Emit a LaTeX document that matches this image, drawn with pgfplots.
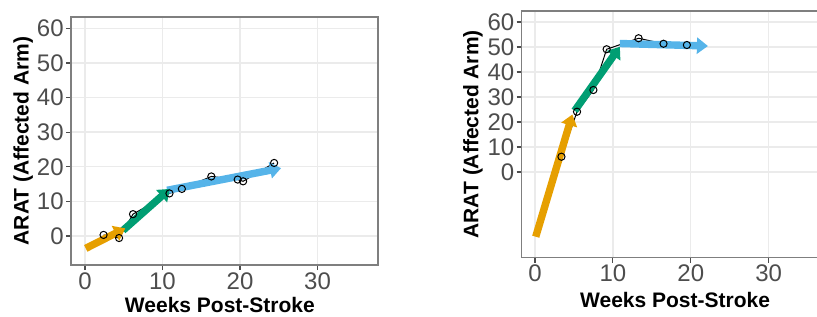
\documentclass[border=0pt]{standalone}
\usepackage{fontspec}
\setmainfont{Liberation Sans}
\usepackage{pgfplots}
\pgfplotsset{compat=1.18}
\usetikzlibrary{arrows.meta}
\definecolor{okorange}{HTML}{E69F00}
\definecolor{okgreen}{HTML}{009E73}
\definecolor{okblue}{HTML}{56B4E9}
\definecolor{gridc}{HTML}{EBEBEB}
\definecolor{framec}{HTML}{7F7F7F}
\definecolor{tickc}{HTML}{4D4D4D}
\pgfplotsset{panel/.style={
  scale only axis, anchor=south west,
  axis line style={framec, line width=0.6pt},
  grid=major, major grid style={gridc, line width=0.7pt},
  tick pos=left, tick align=outside, major tick length=2.5pt,
  tick style={tickc, line width=0.6pt},
  xtick={0,10,20,30}, ytick={0,10,...,60},
  ticklabel style={font=\fontsize{12}{13}\selectfont, text=tickc, inner sep=1pt},
  /pgf/number format/assume math mode=true,
  label style={font=\fontsize{10.5}{12}\selectfont\bfseries},
  xlabel={Weeks Post-Stroke}, ylabel={ARAT (Affected Arm)},
  },
  arr/.style={line width=3.7pt, -{Triangle[width=8pt,length=5.5pt]}},
  obs/.style={black, line width=0.5pt, mark=o, mark size=1.8pt, mark options={solid, fill=none}},
}
\begin{document}
\begin{tikzpicture}
\begin{axis}[panel, at={(35.5pt,25.5pt)}, width=153.5pt, height=124pt,
  xmin=-1.8, xmax=37.8, ymin=-8.4, ymax=63.3,
  x label style={at={(axis description cs:0.485,-0.161)}, anchor=center},
  y label style={at={(axis description cs:-0.156,0.5)}, anchor=center}]
\addplot[obs] coordinates {(2.4,0.3) (4.4,-0.6) (6.2,6.3) (10.9,12.3) (12.5,13.6) (16.3,17.2) (19.7,16.3) (20.4,15.8) (24.4,21.1)};
\addplot[arr, okblue] coordinates {(10.6,13.2) (25.3,19.6)};
\addplot[arr, okgreen] coordinates {(4.9,1.6) (10.95,13.6)};
\addplot[arr, okorange] coordinates {(0.1,-3.6) (5.2,2.2)};
\end{axis}
\begin{axis}[panel, at={(260.85pt,29.15pt)}, width=162.45pt, height=123.35pt,
  xmin=-1.7, xmax=40, ymin=-34.3, ymax=64.4,
  x label style={at={(axis description cs:0.472,-0.171)}, anchor=center},
  y label style={at={(axis description cs:-0.150,0.5)}, anchor=center}]
\addplot[obs] coordinates {(3.4,6.1) (5.4,24.1) (7.5,32.8) (9.2,49.1) (13.3,53.5) (16.5,51.3) (19.5,50.8)};
\addplot[arr, okblue] coordinates {(10.9,51.4) (22.2,50.4)};
\addplot[arr, okgreen] coordinates {(5.1,24.5) (10.9,50.1)};
\addplot[arr, okorange] coordinates {(0.1,-25.9) (4.8,23.0)};
\end{axis}
\pgfresetboundingbox
\useasboundingbox (0,0) rectangle (408.5pt,158pt);
\end{tikzpicture}
\end{document}
